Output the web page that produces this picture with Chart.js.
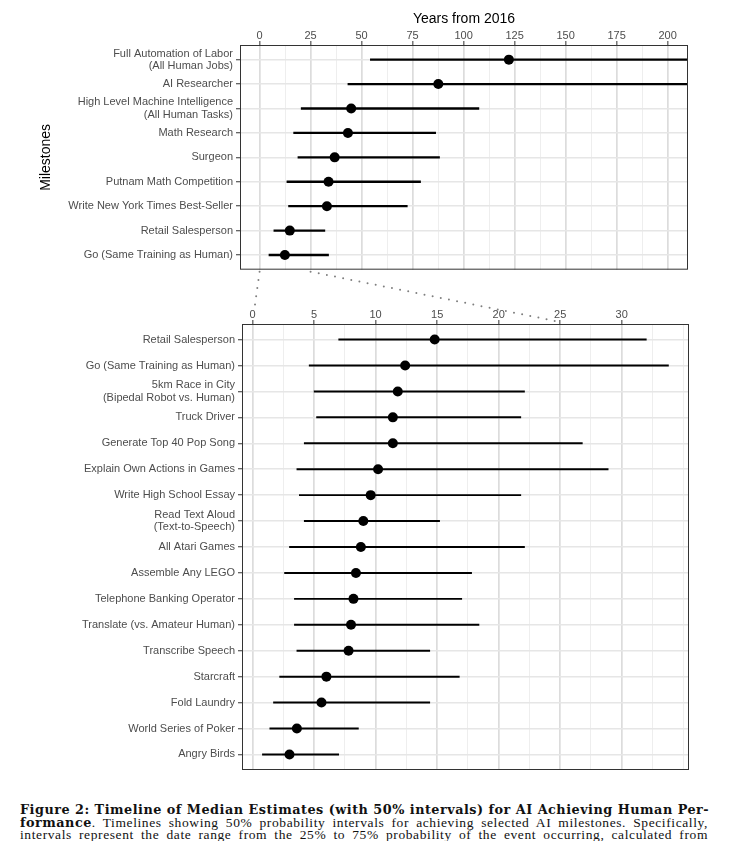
<!DOCTYPE html>
<html>
<head>
<meta charset="utf-8">
<script src="https://cdn.jsdelivr.net/npm/chart.js@4.4.1/dist/chart.umd.min.js"></script>
<style>
  body { margin: 0; background: #fff; width: 730px; height: 841px; overflow: hidden; position: relative; }
  canvas { position: absolute; left: 0; }
  #top-chart { top: 0; }
  #bottom-chart { top: 290px; }
  #overlay { top: 0; z-index: 2; pointer-events: none; }
  .cap { position: absolute; left: 20px; width: 688px; font-family: "Liberation Serif", serif; font-size: 13.5px;
         line-height: 13px; color: #111; white-space: nowrap; text-align: justify; text-align-last: justify; letter-spacing: 0.6px; }
  .cap b { font-family: "DejaVu Serif", serif; font-size: 12.8px; letter-spacing: 0.5px; }
</style>
</head>
<body>
<canvas id="top-chart" width="730" height="285"></canvas>
<canvas id="bottom-chart" width="730" height="490"></canvas>
<canvas id="overlay" width="730" height="841"></canvas>
<div class="cap" style="top:803px"><b>Figure 2: Timeline of Median Estimates (with 50% intervals) for AI Achieving Human Per-</b></div>
<div class="cap" style="top:815.5px"><b>formance</b>. Timelines showing 50% probability intervals for achieving selected AI milestones. Specifically,</div>
<div class="cap" style="top:828px">intervals represent the date range from the 25% to 75% probability of the event occurring, calculated from</div>
<script>
// years from 2016
const topLabels = [
    ['Full Automation of Labor', '(All Human Jobs)'],
    'AI Researcher',
    ['High Level Machine Intelligence', '(All Human Tasks)'],
    'Math Research',
    'Surgeon',
    'Putnam Math Competition',
    'Write New York Times Best-Seller',
    'Retail Salesperson',
    'Go (Same Training as Human)'
];
const topLow = [54.3, 43.3, 20.4, 16.7, 18.8, 13.4, 14.2, 7.0, 4.6];
const topMedian = [122.2, 87.6, 44.9, 43.3, 36.8, 33.8, 33.0, 14.8, 12.4];
const topHigh = [300, 300, 107.5, 86.3, 88.2, 78.9, 72.4, 32.0, 33.8];
const topMajorTicks = [0, 25, 50, 75, 100, 125, 150, 175, 200];
const topMinorTicks = [12.5, 37.5, 62.5, 87.5, 112.5, 137.5, 162.5, 187.5];

const bottomLabels = [
    'Retail Salesperson',
    'Go (Same Training as Human)',
    ['5km Race in City', '(Bipedal Robot vs. Human)'],
    'Truck Driver',
    'Generate Top 40 Pop Song',
    'Explain Own Actions in Games',
    'Write High School Essay',
    ['Read Text Aloud', '(Text-to-Speech)'],
    'All Atari Games',
    'Assemble Any LEGO',
    'Telephone Banking Operator',
    'Translate (vs. Amateur Human)',
    'Transcribe Speech',
    'Starcraft',
    'Fold Laundry',
    'World Series of Poker',
    'Angry Birds'
];
const bottomLow = [7.0, 4.6, 5.0, 5.2, 4.2, 3.6, 3.8, 4.2, 3.0, 2.6, 3.4, 3.4, 3.6, 2.2, 1.7, 1.4, 0.8];
const bottomMedian = [14.8, 12.4, 11.8, 11.4, 11.4, 10.2, 9.6, 9.0, 8.8, 8.4, 8.2, 8.0, 7.8, 6.0, 5.6, 3.6, 3.0];
const bottomHigh = [32.0, 33.8, 22.1, 21.8, 26.8, 28.9, 21.8, 15.2, 22.1, 17.8, 17.0, 18.4, 14.4, 16.8, 14.4, 8.6, 7.0];
const bottomMajorTicks = [0, 5, 10, 15, 20, 25, 30];
const bottomMinorTicks = [2.5, 7.5, 12.5, 17.5, 22.5, 27.5, 32.5, 35];

const FONT = '"Liberation Sans", Arial, sans-serif';

// draws the full panel border (ggplot theme_bw)
const panelBorder = {
    id: 'panelBorder',
    afterDatasetsDraw(chart) {
        const { ctx, chartArea: a } = chart;
        ctx.save();
        ctx.strokeStyle = '#333333';
        ctx.lineWidth = 1;
        ctx.strokeRect(a.left + 0.5, a.top + 0.5, a.right - a.left - 1, a.bottom - a.top - 1);
        ctx.restore();
    }
};

function makeChart(id, cfg) {
    const isMajor = v => cfg.major.includes(v);
    const rows = cfg.labels.map((_, i) => i);

    return new Chart(document.getElementById(id), {
        type: 'scatter',
        data: {
            datasets: [
                {
                    type: 'scatter',
                    data: cfg.median.map((m, i) => ({ x: m, y: i })),
                    backgroundColor: '#000',
                    borderColor: '#000',
                    pointRadius: 5,
                    pointBorderWidth: 0,
                    order: 0
                },
                {
                    type: 'bar',
                    indexAxis: 'y',
                    data: cfg.low.map((lo, i) => ({ x: [lo, cfg.high[i]], y: i })),
                    backgroundColor: '#000',
                    borderWidth: 0,
                    barThickness: cfg.lineWidth,
                    order: 1
                }
            ]
        },
        options: {
            responsive: false,
            animation: false,
            layout: { padding: cfg.padding },
            plugins: { legend: { display: false }, tooltip: { enabled: false } },
            scales: {
                x: {
                    type: 'linear',
                    position: 'top',
                    offset: false,
                    min: cfg.xMin,
                    max: cfg.xMax,
                    afterBuildTicks: s => { s.ticks = cfg.major.concat(cfg.minor).sort((a, b) => a - b).map(v => ({ value: v })); },
                    afterFit: s => { s.height = cfg.xHeight; },
                    ticks: {
                        autoSkip: false,
                        maxRotation: 0,
                        padding: -2,
                        color: '#4d4d4d',
                        font: { family: FONT, size: 11 },
                        callback: v => isMajor(v) ? String(v) : ''
                    },
                    grid: {
                        offset: false,
                        color: c => isMajor(c.tick.value) ? '#dcdcdc' : '#ececec',
                        lineWidth: c => isMajor(c.tick.value) ? 1.7 : 0.9,
                        tickColor: c => isMajor(c.tick.value) ? '#333333' : 'rgba(0,0,0,0)',
                        tickWidth: 1,
                        tickLength: 4
                    },
                    border: { display: false },
                    title: {
                        display: !!cfg.xTitle,
                        text: cfg.xTitle,
                        color: '#000',
                        font: { family: FONT, size: 14 },
                        padding: { top: 11, bottom: 0 }
                    }
                },
                y: {
                    type: 'linear',
                    reverse: true,
                    offset: false,
                    min: -0.6,
                    max: cfg.labels.length - 0.4,
                    afterBuildTicks: s => { s.ticks = rows.map(v => ({ value: v })); },
                    afterFit: s => { s.width = cfg.yWidth; },
                    ticks: {
                        autoSkip: false,
                        padding: 3,
                        color: '#4d4d4d',
                        font: { family: FONT, size: 11, lineHeight: 1.12 },
                        callback: v => cfg.labels[v]
                    },
                    grid: {
                        offset: false,
                        color: '#e6e6e6',
                        lineWidth: 1.5,
                        tickColor: '#333333',
                        tickWidth: 1,
                        tickLength: 4
                    },
                    border: { display: false },
                    title: {
                        display: !!cfg.yTitle,
                        text: cfg.yTitle,
                        color: '#000',
                        font: { family: FONT, size: 14 },
                        padding: { top: 4, bottom: 0 }
                    }
                }
            }
        },
        plugins: [panelBorder]
    });
}

const topChart = makeChart('top-chart', {
    labels: topLabels, low: topLow, median: topMedian, high: topHigh,
    major: topMajorTicks, minor: topMinorTicks,
    xMin: -9.6, xMax: 210, xTitle: 'Years from 2016', yTitle: 'Milestones',
    xHeight: 45, yWidth: 206, lineWidth: 1.7,
    padding: { left: 34, right: 42, top: 0, bottom: 13 }
});

const bottomChart = makeChart('bottom-chart', {
    labels: bottomLabels, low: bottomLow, median: bottomMedian, high: bottomHigh,
    major: bottomMajorTicks, minor: bottomMinorTicks,
    xMin: -0.86, xMax: 35.47, xTitle: '', yTitle: '',
    xHeight: 34, yWidth: 242, lineWidth: 1.3,
    padding: { left: 0, right: 41, top: 0, bottom: 10 }
});

// dotted zoom lines between the two panels
(function drawConnectors() {
    const ctx = document.getElementById('overlay').getContext('2d');
    const offset = 290;
    const y0 = topChart.chartArea.bottom + 2;
    const y1 = bottomChart.chartArea.top + offset;
    ctx.strokeStyle = '#7f7f7f';
    ctx.lineWidth = 2;
    ctx.lineCap = 'round';
    ctx.setLineDash([0, 8.3]);
    [[0, 0.72], [25, 1]].forEach(([v, frac]) => {
        const xa = topChart.scales.x.getPixelForValue(v);
        const xb = bottomChart.scales.x.getPixelForValue(v);
        ctx.beginPath();
        ctx.moveTo(xa, y0);
        ctx.lineTo(xa + (xb - xa) * frac, y0 + (y1 - 2 - y0) * frac);
        ctx.stroke();
    });
})();
</script>
</body>
</html>
